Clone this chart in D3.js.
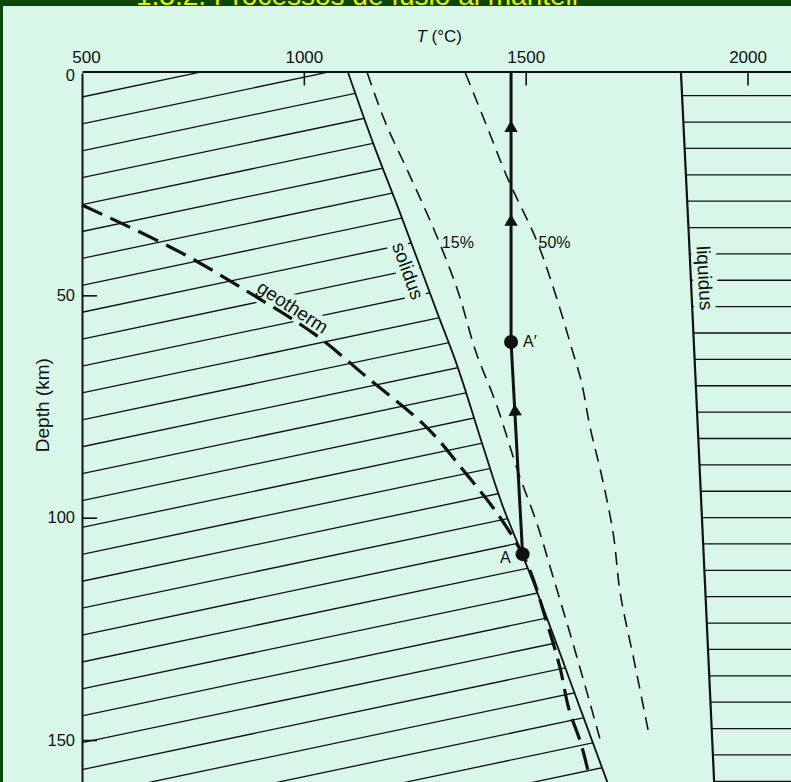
<!DOCTYPE html>
<html>
<head>
<meta charset="utf-8">
<script src="https://cdn.jsdelivr.net/npm/d3@7"></script>
<style>
  html, body { margin: 0; padding: 0; background: #0b460b; }
  svg { display: block; }
  text { font-family: "Liberation Sans", Arial, Helvetica, sans-serif; }
</style>
</head>
<body>
<div id="chart"></div>
<script>
// tick values of the two axes
const tempTicks = [500, 1000, 1500, 2000];
const depthTicks = [0, 50, 100, 150];

// curves, as [temperature °C, depth km]
const solidus = [[1100, 0], [1157, 16], [1217, 31.5], [1301, 54], [1341, 64.5], [1404, 84],
                 [1449, 97.6], [1492, 108.2], [1515, 114], [1627, 144], [1686, 160]];
const liquidus = [[1850, 0], [1867, 35], [1888, 80], [1925, 160]];
const melt15 = [[1143, 0], [1188, 12.1], [1233, 21.8], [1305, 38], [1344, 48.1], [1392, 63.9],
                [1428, 72.9], [1487, 90.9], [1525, 101.2], [1559, 112.4], [1611, 129.8], [1668, 150]];
const melt50 = [[1364, 0], [1413, 12.1], [1458, 23.4], [1526, 38], [1571, 51], [1607, 63],
                [1623, 68.4], [1645, 79.6], [1672, 90.9], [1697, 103.4], [1713, 116.9],
                [1744, 132], [1776, 147.8]];
const geotherm = [[500, 29.7], [721, 40.3], [879, 49.5], [1021, 58.5], [1142, 68.4], [1278, 79.8],
                  [1359, 89.3], [1435, 98.9], [1493, 108.2], [1548, 123.7], [1577, 133.6],
                  [1600, 143.9], [1622, 150], [1640, 156.7]];
// rising mantle path A -> A' -> surface
const ascent = [[1493, 108.2], [1467, 60.5], [1467, 0]];
const arrows = [[1467, 12.4], [1467, 33.5], [1476, 76.2]];
const points = [{name: "A", T: 1493, d: 108.2}, {name: "A\u2032", T: 1467, d: 60.5}];

const W = 791, H = 782;
const BG = "#d8f7e9", INK = "#111";

const x = d3.scaleLinear().domain([500, 2100]).range([82, 791.9]);
const y = d3.scaleLinear().domain([0, 160]).range([73, 784.5]);

const svg = d3.select("#chart").append("svg")
    .attr("width", W)
    .attr("height", H);

// dark green frame + page title cut off at the top
svg.append("rect").attr("width", W).attr("height", H).attr("fill", "#0b460b");
svg.append("rect").attr("x", 3).attr("y", 6).attr("width", W - 3).attr("height", H - 6).attr("fill", BG);
svg.append("text")
    .attr("x", 136).attr("y", 5)
    .attr("fill", "#e6f000")
    .attr("font-size", 28)
    .text("1.3.2. Processos de fusió al mantell");

const line = d3.line()
    .x(function(d) { return x(d[0]); })
    .y(function(d) { return y(d[1]); });
const smooth = d3.line()
    .x(function(d) { return x(d[0]); })
    .y(function(d) { return y(d[1]); })
    .curve(d3.curveMonotoneY);

// clip regions: left of the solidus, right of the liquidus
const defs = svg.append("defs");
defs.append("clipPath").attr("id", "solidClip")
    .append("path")
    .attr("d", smooth(solidus) + "L" + x(500) + "," + y(160) + "L" + x(500) + "," + y(0) + "Z");
defs.append("clipPath").attr("id", "liquidClip")
    .append("path")
    .attr("d", smooth(liquidus) + "L" + x(2100) + "," + y(160) + "L" + x(2100) + "," + y(0) + "Z");

// hatching of the solid field (sloping) and the liquid field (flat)
const hatchSlope = 0.021;   // km per °C
const solidHatch = svg.append("g").attr("clip-path", "url(#solidClip)");
d3.range(5.4, 185, 6.05).forEach(function(d0) {
    solidHatch.append("path")
        .attr("d", line([[500, d0], [1800, d0 - hatchSlope * 1300]]))
        .attr("stroke", INK).attr("stroke-width", 1.3).attr("fill", "none");
});
const liquidHatch = svg.append("g").attr("clip-path", "url(#liquidClip)");
d3.range(5.1, 160, 5.93).forEach(function(d0) {
    liquidHatch.append("path")
        .attr("d", line([[1800, d0], [2100, d0]]))
        .attr("stroke", INK).attr("stroke-width", 1.3).attr("fill", "none");
});

// curve labels (with a background halo that cuts the hatching)
const curveLabels = [
    {text: "solidus", T: 1235, d: 44.5, angle: 70},
    {text: "liquidus", T: 1904, d: 46.1, angle: 87},
    {text: "geotherm", T: 975, d: 52.6, angle: 33}
];
svg.append("g").selectAll("text")
    .data(curveLabels)
    .join("text")
    .attr("transform", function(d) { return "translate(" + x(d.T) + "," + y(d.d) + ") rotate(" + d.angle + ")"; })
    .attr("text-anchor", "middle")
    .attr("dy", "0.35em")
    .attr("font-size", 19)
    .attr("fill", INK)
    .attr("stroke", BG).attr("stroke-width", 11).attr("stroke-linejoin", "round")
    .attr("paint-order", "stroke")
    .text(function(d) { return d.text; });

// solidus and liquidus
svg.append("path").attr("d", smooth(solidus))
    .attr("fill", "none").attr("stroke", INK).attr("stroke-width", 1.8);
svg.append("path").attr("d", smooth(liquidus))
    .attr("fill", "none").attr("stroke", INK).attr("stroke-width", 2.2);

// 15% and 50% melting curves
[melt15, melt50].forEach(function(c) {
    svg.append("path").attr("d", smooth(c))
        .attr("fill", "none").attr("stroke", INK)
        .attr("stroke-width", 1.6).attr("stroke-dasharray", "13,8");
});
svg.append("text").attr("x", x(1311)).attr("y", y(39.4))
    .attr("font-size", 16).attr("fill", INK).text("15%");
svg.append("text").attr("x", x(1529)).attr("y", y(39.4))
    .attr("font-size", 16).attr("fill", INK).text("50%");

// geotherm
svg.append("path").attr("d", smooth(geotherm))
    .attr("fill", "none").attr("stroke", INK)
    .attr("stroke-width", 3.2).attr("stroke-dasharray", "22,9");

// ascent path with arrows
svg.append("path").attr("d", line(ascent))
    .attr("fill", "none").attr("stroke", INK).attr("stroke-width", 3);
svg.append("g").selectAll("path")
    .data(arrows)
    .join("path")
    .attr("d", d3.symbol(d3.symbolTriangle, 78))
    .attr("transform", function(d, i) {
        return "translate(" + x(d[0]) + "," + y(d[1]) + ") rotate(" + (i === 2 ? -3 : 0) + ")";
    })
    .attr("fill", INK);

svg.append("g").selectAll("circle")
    .data(points)
    .join("circle")
    .attr("cx", function(d) { return x(d.T); })
    .attr("cy", function(d) { return y(d.d); })
    .attr("r", 7)
    .attr("fill", INK);
svg.append("text").attr("x", x(1494)).attr("y", y(61.6))
    .attr("font-size", 16).attr("fill", INK).text("A\u2032");
svg.append("text").attr("x", x(1466)).attr("y", y(110.2))
    .attr("text-anchor", "end")
    .attr("font-size", 16).attr("fill", INK).text("A");

// axes
const xAxis = svg.append("g")
    .attr("transform", "translate(0," + (y(0) - 1.5) + ")")
    .call(d3.axisTop(x).tickValues(tempTicks).tickFormat(d3.format("d"))
        .tickSizeInner(-14).tickSizeOuter(0).tickPadding(9));
const yAxis = svg.append("g")
    .attr("transform", "translate(" + x(500) + ",0)")
    .call(d3.axisLeft(y).tickValues(depthTicks).tickFormat(d3.format("d"))
        .tickSizeInner(-15).tickSizeOuter(0).tickPadding(7));

[xAxis, yAxis].forEach(function(a) {
    a.attr("font-family", null).attr("font-size", 16.5);
    a.select(".domain").attr("stroke", INK).attr("stroke-width", 2);
    a.selectAll(".tick line").attr("stroke", INK).attr("stroke-width", 1.6);
    a.selectAll(".tick text").attr("fill", INK);
});
xAxis.selectAll(".tick text").attr("font-size", 17);
// the corner labels "500" and "0" sit a little apart in the original
xAxis.selectAll(".tick text").filter(function(d) { return d === 500; }).attr("dx", 4);
yAxis.selectAll(".tick text").filter(function(d) { return d === 0; }).attr("dy", "0.45em");
xAxis.selectAll(".tick line").filter(function(d) { return d === 500; }).remove();
yAxis.selectAll(".tick line").filter(function(d) { return d === 0; }).remove();

svg.append("text")
    .attr("x", x(1305)).attr("y", 42)
    .attr("text-anchor", "middle")
    .attr("font-size", 17).attr("fill", INK)
    .html('<tspan font-style="italic">T</tspan> (°C)');

svg.append("text")
    .attr("transform", "translate(42," + y(74.7) + ") rotate(-90)")
    .attr("text-anchor", "middle")
    .attr("dy", "0.35em")
    .attr("font-size", 19).attr("fill", INK)
    .text("Depth (km)");
</script>
</body>
</html>
